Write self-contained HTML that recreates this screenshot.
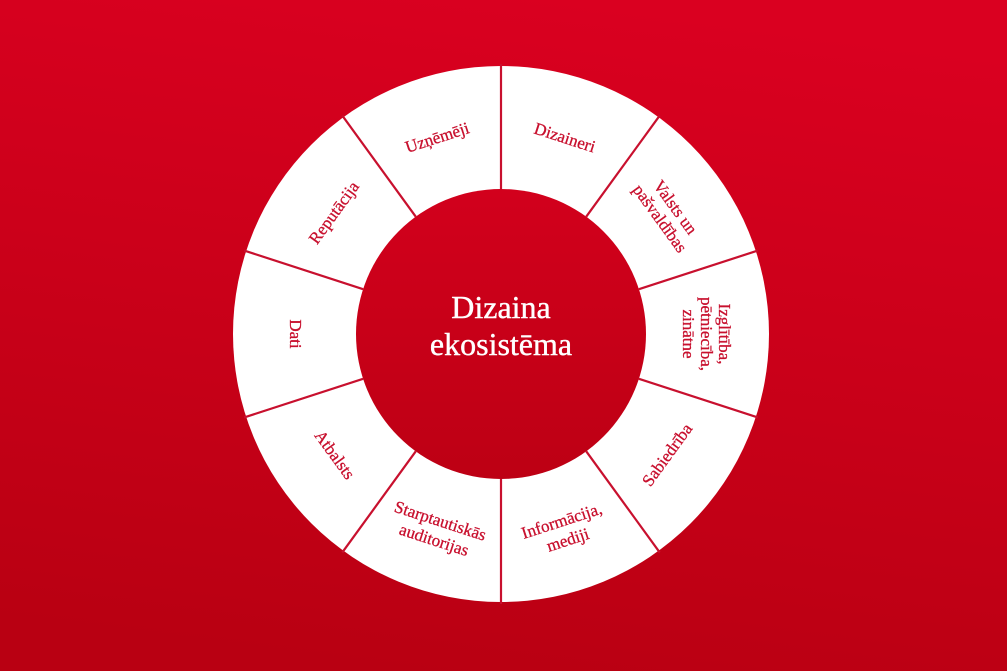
<!DOCTYPE html>
<html><head><meta charset="utf-8"><style>
html,body{margin:0;padding:0;width:1007px;height:671px;overflow:hidden}
</style></head><body>
<svg width="1007" height="671" viewBox="0 0 1007 671" xmlns="http://www.w3.org/2000/svg">
<defs>
<linearGradient id="bg" x1="0.6" y1="0" x2="0.4" y2="1">
<stop offset="0" stop-color="#da0020"/><stop offset="1" stop-color="#b90012"/>
</linearGradient>
<linearGradient id="ic" x1="0" y1="0" x2="0" y2="1">
<stop offset="0" stop-color="#d2001c"/><stop offset="1" stop-color="#bd0014"/>
</linearGradient>
</defs>
<rect width="1007" height="671" fill="url(#bg)"/>
<circle cx="501" cy="334" r="268" fill="#fff"/>
<g stroke="#c8102e" stroke-width="2.2">
<line x1="501" y1="189" x2="501" y2="64" transform="rotate(0 501 334)"/>
<line x1="501" y1="189" x2="501" y2="64" transform="rotate(36 501 334)"/>
<line x1="501" y1="189" x2="501" y2="64" transform="rotate(72 501 334)"/>
<line x1="501" y1="189" x2="501" y2="64" transform="rotate(108 501 334)"/>
<line x1="501" y1="189" x2="501" y2="64" transform="rotate(144 501 334)"/>
<line x1="501" y1="189" x2="501" y2="64" transform="rotate(180 501 334)"/>
<line x1="501" y1="189" x2="501" y2="64" transform="rotate(216 501 334)"/>
<line x1="501" y1="189" x2="501" y2="64" transform="rotate(252 501 334)"/>
<line x1="501" y1="189" x2="501" y2="64" transform="rotate(288 501 334)"/>
<line x1="501" y1="189" x2="501" y2="64" transform="rotate(324 501 334)"/>
</g>
<circle cx="501" cy="334" r="145" fill="url(#ic)"/>
<g font-family="Liberation Serif, serif" font-size="17" fill="#c8102e" text-anchor="middle" stroke="#c8102e" stroke-width="0.3">
<text x="501" y="133" transform="rotate(-18 501 334)">Uzņēmēji</text>
<text x="501" y="133" transform="rotate(18 501 334)">Dizaineri</text>
<text x="501" y="124" transform="rotate(54 501 334)"><tspan x="501">Valsts un</tspan><tspan x="501" dy="19">pašvaldības</tspan></text>
<text x="501" y="116" transform="rotate(90 501 334)"><tspan x="501">Izglītība,</tspan><tspan x="501" dy="18">pētniecība,</tspan><tspan x="501" dy="18">zinātne</tspan></text>
<text x="501" y="545" transform="rotate(-54 501 334)">Sabiedrība</text>
<text x="501" y="536" transform="rotate(-18 501 334)"><tspan x="501">Informācija,</tspan><tspan x="501" dy="20">mediji</tspan></text>
<text x="501" y="536" transform="rotate(18 501 334)"><tspan x="501">Starptautiskās</tspan><tspan x="501" dy="20">auditorijas</tspan></text>
<text x="501" y="545" transform="rotate(54 501 334)">Atbalsts</text>
<text x="501" y="545" transform="rotate(90 501 334)">Dati</text>
<text x="501" y="133" transform="rotate(-54 501 334)">Reputācija</text>
</g>
<g font-family="Liberation Serif, serif" font-size="32" fill="#fff" text-anchor="middle" stroke="#fff" stroke-width="0.4">
<text x="501" y="318">Dizaina</text>
<text x="501" y="355">ekosistēma</text>
</g>
</svg>
</body></html>
